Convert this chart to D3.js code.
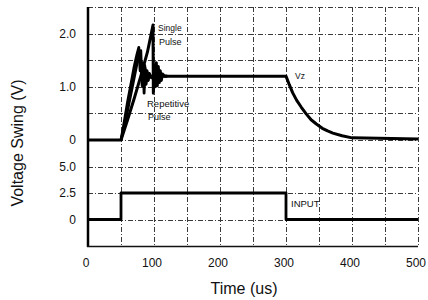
<!DOCTYPE html>
<html><head><meta charset="utf-8">
<script src="https://cdn.jsdelivr.net/npm/d3@7"></script>
<style>body{margin:0;background:#fff}svg{display:block}</style>
</head><body><svg id="c" width="428" height="300"></svg>
<script>
// ---- data ----
const timeTicks = [0, 100, 200, 300, 400, 500];
const swingTicks = [0, 1.0, 2.0];
const swingTickLabels = ["0", "1.0", "2.0"];
const inputTicks = [0, 2.5, 5.0];
const inputTickLabels = ["0", "2.5", "5.0"];
const timeGrid = [0, 50, 100, 150, 200, 250, 300, 350, 400, 450, 500];
const swingGrid = [0, 0.5, 1.0, 1.5, 2.0, 2.5];
const inputGrid = [-2.5, 0, 2.5, 5.0];

const singleT = [0, 50, 60, 70, 80, 90, 98.5, 99, 100.5, 102, 103.5, 105, 106.5, 108, 109.5, 111, 113, 116, 300, 305, 310, 316, 323, 330, 338, 346, 355, 363, 371, 385, 400, 500];
const singleV = [0, 0, 0.38, 0.78, 1.2, 1.65, 2.16, 0.88, 1.4, 1.0, 1.45, 1.02, 1.38, 1.08, 1.3, 1.12, 1.24, 1.2, 1.2, 1.04, 0.89, 0.75, 0.62, 0.5, 0.38, 0.3, 0.22, 0.17, 0.13, 0.08, 0.04, 0.02];
const repAT = [50, 55, 60, 65, 70, 74, 77, 79, 80.5, 82, 83.5, 85, 86.5, 88, 89.5, 91, 93, 96, 100, 120];
const repAV = [0, 0.35, 0.72, 1.05, 1.38, 1.6, 1.74, 1.3, 1.45, 1.02, 1.42, 0.88, 1.35, 1.05, 1.3, 1.12, 1.24, 1.18, 1.2, 1.2];
const repBT = [50, 56, 62, 68, 74, 78, 80, 81.5, 83, 84.5, 86, 87.5, 89, 91, 93, 96, 100, 120];
const repBV = [0, 0.3, 0.68, 1.05, 1.42, 1.62, 1.68, 1.15, 1.45, 1.0, 1.4, 1.05, 1.3, 1.12, 1.25, 1.17, 1.2, 1.2];
const inputT = [0, 50, 50, 300, 300, 500];
const inputV = [0, 0, 2.5, 2.5, 0, 0];

const svg = d3.select("#c");
const font = "Liberation Sans, Arial, sans-serif";
svg.append("rect").attr("width", 428).attr("height", 300).attr("fill", "#fff");
const x = d3.scaleLinear().domain([0, 500]).range([88, 418]);
const yTop = d3.scaleLinear().domain([0, 2.5]).range([140, 7]);
const yBot = d3.scaleLinear().domain([-2.5, 7.5]).range([246, 140]);

// ---- grid as one path ----
const gp = d3.path();
timeGrid.forEach(t => { const px = Math.round(x(t)) + 0.5; gp.moveTo(px, yTop(2.5)); gp.lineTo(px, yBot(-2.5)); });
swingGrid.forEach(v => { const py = Math.round(yTop(v)) + 0.5; gp.moveTo(x(0), py); gp.lineTo(x(500), py); });
inputGrid.forEach(v => { const py = Math.round(yBot(v)) + 0.5; gp.moveTo(x(0), py); gp.lineTo(x(500), py); });
svg.append("path").attr("d", gp.toString()).attr("fill", "none").attr("stroke", "#3a3a3a")
  .attr("stroke-width", 1).attr("stroke-dasharray", "5 2 1 2");

// ---- tick labels ----
const lbl = svg.append("g").attr("font-family", font).attr("font-size", 12).attr("fill", "#111");
lbl.selectAll("text.xt").data(timeTicks).join("text").attr("class", "xt")
  .attr("x", d => x(d) - 2).attr("y", 267).attr("text-anchor", "middle").text(d => d3.format("d")(d));
lbl.selectAll("text.yt").data(swingTicks).join("text").attr("class", "yt")
  .attr("x", 76).attr("y", d => yTop(d) + 4.3).attr("text-anchor", "end").text((d, i) => swingTickLabels[i]);
lbl.selectAll("text.yb").data(inputTicks).join("text").attr("class", "yb")
  .attr("x", 76).attr("y", d => yBot(d) + 4.3).attr("text-anchor", "end").text((d, i) => inputTickLabels[i]);

// ---- borders ----
svg.append("line").attr("x1", x(0)).attr("x2", x(0)).attr("y1", yTop(2.5)).attr("y2", yBot(-2.5) + 1).attr("stroke", "#000").attr("stroke-width", 2.5);
svg.append("line").attr("x1", x(0) - 1).attr("x2", x(500)).attr("y1", yBot(-2.5) + 0.5).attr("y2", yBot(-2.5) + 0.5).attr("stroke", "#111").attr("stroke-width", 1.6);

// ---- traces ----
const lineTop = d3.line().x(d => x(d[0])).y(d => yTop(d[1]));
const lineBot = d3.line().x(d => x(d[0])).y(d => yBot(d[1]));
const zip = (a, b) => a.map((v, i) => [v, b[i]]);
const stroke = (p, w) => p.attr("fill", "none").attr("stroke", "#000").attr("stroke-width", w).attr("stroke-linejoin", "round");
svg.append("path").attr("d", lineTop(zip(repAT, repAV))).call(stroke, 2.8);
svg.append("path").attr("d", lineTop(zip(repBT, repBV))).call(stroke, 2.8);
svg.append("path").attr("d", lineTop(zip(singleT, singleV))).call(stroke, 3);
svg.append("path").attr("d", lineBot(zip(inputT, inputV))).call(stroke, 2.8);

// ---- annotations ----
const annG = svg.append("g").attr("font-family", font).attr("fill", "#111");
const ann = (txt, px, py, fs) => annG.append("text").attr("x", px).attr("y", py).attr("font-size", fs).text(txt);
ann("Single", 158, 31, 8.5);
ann("Pulse", 159, 45, 9);
ann("Repetitive", 147, 107, 9.5);
ann("Pulse", 148, 120, 9);
ann("Vz", 295, 79, 8.5);
ann("INPUT", 291, 207, 9.5);

// ---- axis titles ----
const tG = svg.append("g").attr("font-family", font).attr("fill", "#111").attr("text-anchor", "middle");
tG.append("text").attr("x", 244).attr("y", 294).attr("font-size", 16).text("Time (us)");
tG.append("text").attr("transform", "translate(23,143) rotate(-90)").attr("font-size", 16).text("Voltage Swing (V)");
</script></body></html>
